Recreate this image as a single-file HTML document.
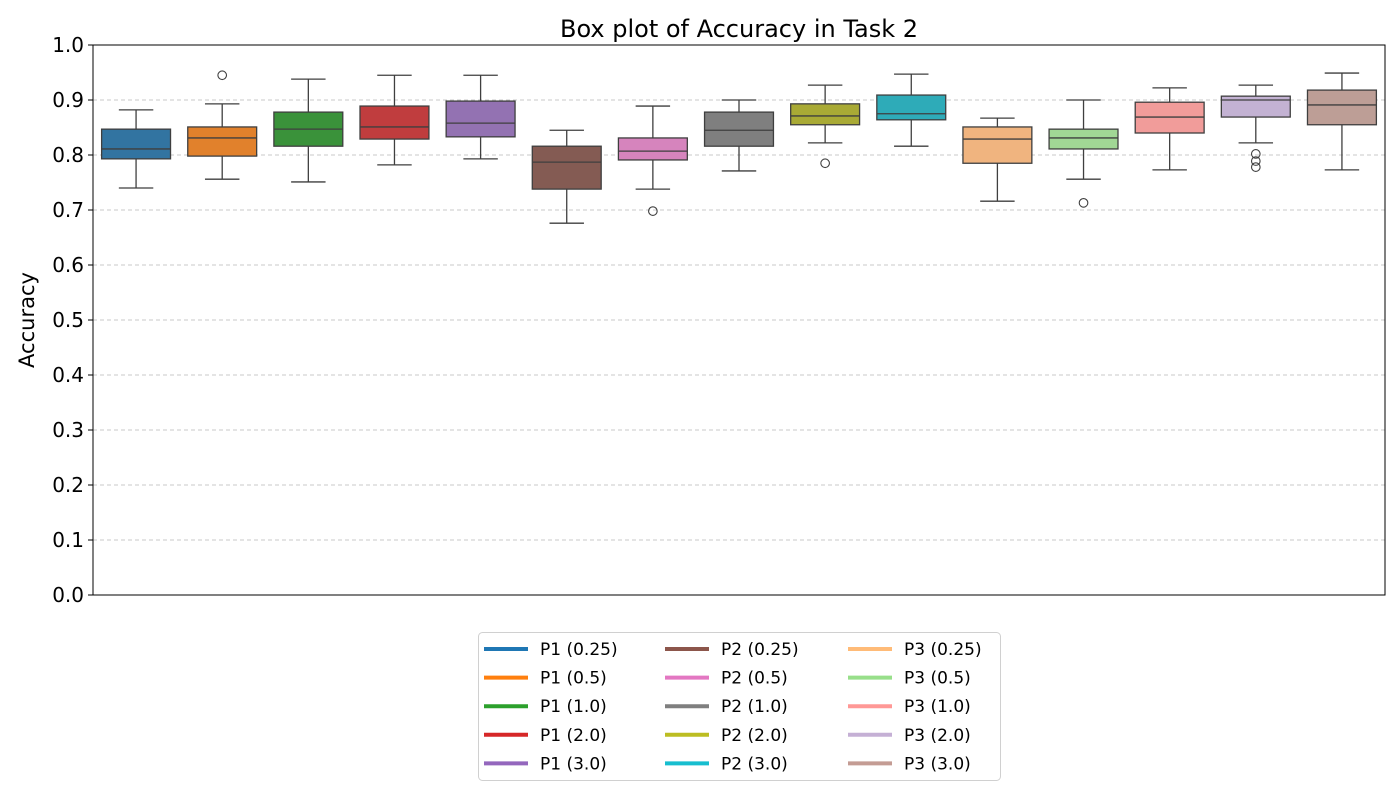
<!DOCTYPE html>
<html><head><meta charset="utf-8"><style>
body{margin:0;background:#fff;font-family:"Liberation Sans","DejaVu Sans",sans-serif}
svg text{font-family:"DejaVu Sans","Liberation Sans",sans-serif}
</style></head><body>
<svg id="c" width="1400" height="800" xmlns="http://www.w3.org/2000/svg">
<rect width="1400" height="800" fill="#fff"/>
<text x="739" y="37" text-anchor="middle" font-size="24">Box plot of Accuracy in Task 2</text>
<text transform="translate(34,320) rotate(-90)" text-anchor="middle" font-size="21">Accuracy</text>
<g id="grid"></g><g id="boxes"></g><g id="yticks"></g>
<rect x="93" y="45" width="1292" height="550" fill="none" stroke="#000" stroke-width="1"/>
<g id="legend"></g>
</svg>
<script>
const categories=["P1 (0.25)","P1 (0.5)","P1 (1.0)","P1 (2.0)","P1 (3.0)","P2 (0.25)","P2 (0.5)","P2 (1.0)","P2 (2.0)","P2 (3.0)","P3 (0.25)","P3 (0.5)","P3 (1.0)","P3 (2.0)","P3 (3.0)"];
const whiskerLow=[0.74,0.756,0.751,0.782,0.793,0.676,0.738,0.771,0.822,0.816,0.716,0.756,0.773,0.822,0.773];
const q1=[0.793,0.798,0.816,0.829,0.833,0.738,0.791,0.816,0.855,0.864,0.785,0.811,0.84,0.869,0.855];
const median=[0.811,0.831,0.847,0.851,0.858,0.787,0.807,0.845,0.871,0.875,0.829,0.831,0.869,0.9,0.891];
const q3=[0.847,0.851,0.878,0.889,0.898,0.816,0.831,0.878,0.893,0.909,0.851,0.847,0.896,0.907,0.918];
const whiskerHigh=[0.882,0.893,0.938,0.945,0.945,0.845,0.889,0.9,0.927,0.947,0.867,0.9,0.922,0.927,0.949];
const outliers=[[],[0.945],[],[],[],[],[0.698],[],[0.785],[],[],[0.713],[],[0.802,0.789,0.778],[]];
const yTicks=[0,0.1,0.2,0.3,0.4,0.5,0.6,0.7,0.8,0.9,1.0];
const boxColors=["#3274a1","#e1812c","#3a923a","#c03d3e","#9372b2","#845b53","#d684bd","#7f7f7f","#a9aa35","#2eabb8","#f0b47f","#a1d795","#f19c9a","#c3b2d3","#bd9e96"];
const legendColors=["#1f77b4","#ff7f0e","#2ca02c","#d62728","#9467bd","#8c564b","#e377c2","#7f7f7f","#bcbd22","#17becf","#ffbb78","#98df8a","#ff9896","#c5b0d5","#c49c94"];
const NS="http://www.w3.org/2000/svg";
const X0=93,X1=1385,Y0=595,Y1=45;
const y=v=>Y0-v*(Y0-Y1);
const slot=(X1-X0)/categories.length;
const xc=i=>X0+slot*(i+0.5);
function mk(p,t,a){const e=document.createElementNS(NS,t);for(const k in a)e.setAttribute(k,a[k]);p.appendChild(e);return e;}
const grid=document.getElementById('grid'),yt=document.getElementById('yticks');
yTicks.forEach(v=>{
 if(v>0&&v<1){const l=mk(grid,'line',{x1:X0,x2:X1,y1:y(v),y2:y(v),stroke:'#c8c8c8','stroke-dasharray':'4,3','stroke-width':1});
 
 }
 const tk=mk(yt,'line',{x1:X0-5,x2:X0,y1:y(v),y2:y(v),stroke:'#000'});
 
 
 const t=mk(yt,'text',{x:X0-9,y:y(v)+7,'text-anchor':'end','font-size':20});
 t.textContent=v.toFixed(1);
 
 
});
const bg=document.getElementById('boxes');
const bw=slot*0.8;
categories.forEach((c,i)=>{
 const g=mk(bg,'g',{});
 
 
 const cx=xc(i),s='#3f3f3f';
 mk(g,'line',{x1:cx,x2:cx,y1:y(q3[i]),y2:y(whiskerHigh[i]),stroke:s,'stroke-width':1.3});
 mk(g,'line',{x1:cx,x2:cx,y1:y(q1[i]),y2:y(whiskerLow[i]),stroke:s,'stroke-width':1.3});
 mk(g,'line',{x1:cx-bw/4,x2:cx+bw/4,y1:y(whiskerHigh[i]),y2:y(whiskerHigh[i]),stroke:s,'stroke-width':1.3});
 mk(g,'line',{x1:cx-bw/4,x2:cx+bw/4,y1:y(whiskerLow[i]),y2:y(whiskerLow[i]),stroke:s,'stroke-width':1.3});
 mk(g,'rect',{x:cx-bw/2,y:y(q3[i]),width:bw,height:y(q1[i])-y(q3[i]),fill:boxColors[i],stroke:s,'stroke-width':1.3});
 mk(g,'line',{x1:cx-bw/2,x2:cx+bw/2,y1:y(median[i]),y2:y(median[i]),stroke:s,'stroke-width':1.3});
 outliers[i].forEach(o=>mk(g,'circle',{cx:cx,cy:y(o),r:4.3,fill:'none',stroke:s,'stroke-width':1.1}));
});
const lg=document.getElementById('legend');
const lr=mk(lg,'rect',{x:478.5,y:632.5,width:522,height:148,rx:4,fill:'#fff',stroke:'#d0d0d0'});


const colX=[484,665,848];
categories.forEach((c,i)=>{
 const col=Math.floor(i/5),row=i%5,ly=649+row*28.6;
 const g=mk(lg,'g',{});
 
 
 mk(g,'line',{x1:colX[col],x2:colX[col]+44,y1:ly,y2:ly,stroke:legendColors[i],'stroke-width':4});
 const t=mk(g,'text',{x:colX[col]+56,y:ly+6,'font-size':17});
 t.textContent=c;
});
</script>
</body></html>
